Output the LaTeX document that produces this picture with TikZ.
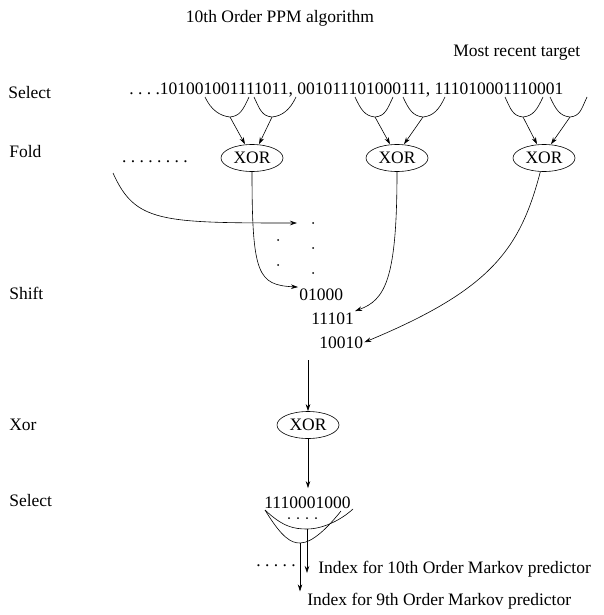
\documentclass[tikz,border=0pt]{standalone}
\usepackage{fontspec}
\setmainfont{Liberation Serif}
\usetikzlibrary{positioning,shapes.geometric,arrows.meta}
\newcommand{\vsel}[4]{% x left, x fold, x right, name   (two-bit fold selector under the string)
  \coordinate (#4) at (#2,117);
  \draw (#1,97) .. controls (#1+6,110) and (#2-10,116) .. (#4)
        .. controls (#2+10,116) and (#3-6,110) .. (#3,97);}
\newcommand{\bitdot}[2]{\fill (#1,#2) circle (1pt);}

\begin{document}
\begin{tikzpicture}[x=1pt,y=-1pt,>={Stealth[length=7pt,width=4.5pt]},line width=0.6pt,
  every node/.style={font=\fontsize{17.5}{20}\selectfont,inner sep=1pt},
  xorbox/.style={draw,ellipse,minimum width=62pt,minimum height=27pt,inner sep=0}]
  \useasboundingbox (0,0) rectangle (603,615);
  % ---- titles and row labels ----
  \node[anchor=base] (title) at (280,23) {10th Order PPM algorithm};
  \node[anchor=base west] (recent) at (452,57) {Most recent target};
  \node[anchor=base west] (lsel) at (7,99) {Select};
  \node[anchor=base west] (lfold) at (8,157) {Fold};
  \node[anchor=base west] (lshift) at (8,299) {Shift};
  \node[anchor=base west] (lxor) at (8,430) {Xor};
  \node[anchor=base west] (lsel2) at (8,506) {Select};
  % ---- history string and fold selectors ----
  \node[anchor=base west] (bits) at (128,95) {.\ .\ .\ .101001001111011, 001011101000111, 111010001110001};
  \vsel{205}{230}{249}{s1a} \vsel{254}{272}{296}{s1b}
  \vsel{355}{375}{393}{s2a} \vsel{403}{423}{445}{s2b}
  \vsel{505}{523}{543}{s3a} \vsel{550}{570}{587}{s3b}
  \node[xorbox] (x1) at (252,158) {XOR};
  \node[xorbox] (x2) at (397,158) {XOR};
  \node[xorbox] (x3) at (544,158) {XOR};
  \node[anchor=base] (fdots) at (155,162) {.\ .\ .\ .\ .\ .\ .\ .};
  \draw[->] (s1a) -- ([xshift=-7pt]x1.north);
  \draw[->] (s1b) -- ([xshift=7pt]x1.north);
  \draw[->] (s2a) -- ([xshift=-7pt]x2.north);
  \draw[->] (s2b) -- ([xshift=7pt]x2.north);
  \draw[->] (s3a) -- ([xshift=-7pt]x3.north);
  \draw[->] (s3b) -- ([xshift=7pt]x3.north);
  % ---- shift register ----
  \node[anchor=base west] (r1) at (298,300) {01000};
  \node[anchor=base west] (r2) at (310,324) {11101};
  \node[anchor=base west] (r3) at (318,348) {10010};
  \bitdot{313}{223} \bitdot{313}{248} \bitdot{313}{273}
  \bitdot{278}{240} \bitdot{278}{265}
  \coordinate (feed) at (113,173);
  \coordinate (shin) at (297,223);
  \draw[->] (feed) .. controls (135,222) and (160,223) .. (shin);
  \draw[->] (x1.south) .. controls (252,275) and (258,285) .. (r1.north west);
  \draw[->] (x2.south) .. controls (397,280) and (385,300) .. (r2.north east);
  \draw[->] (x3.255) .. controls (520,250) and (490,290) .. (r3.east);
  % ---- final xor and index select ----
  \coordinate (shout) at (308,360);
  \node[xorbox] (x4) at (308,425) {XOR};
  \node[anchor=base west] (res) at (263,508) {1110001000};
  \draw[->] (shout) -- (x4.north);
  \draw[->,shorten >=7pt] (x4.south) -- (res.north -| x4.south);
  \coordinate (cl) at (265,510);
  \coordinate (b9) at (300,543);  \coordinate (e9) at (341,511);
  \coordinate (b10) at (307,529); \coordinate (e10) at (353,509);
  \draw (cl) .. controls (282,538) and (291,543) .. (b9) .. controls (313,543) and (329,526) .. (e9);
  \draw (cl) .. controls (283,527) and (294,529) .. (b10) .. controls (323,529) and (341,520) .. (e10);
  \bitdot{289}{518} \bitdot{298}{518} \bitdot{307}{518} \bitdot{316}{518}
  \node[anchor=base] (ldots) at (276,566) {.\ .\ .\ .\ .};
  \node[anchor=base west] (i10) at (317,573) {Index for 10th Order Markov predictor};
  \node[anchor=base west] (i9) at (306,605) {Index for 9th Order Markov predictor};
  \draw[->] (b10) -- (b10 |- i10.base);
  \draw[->] (b9) -- (b9 |- i9.north);
\end{tikzpicture}
\end{document}
